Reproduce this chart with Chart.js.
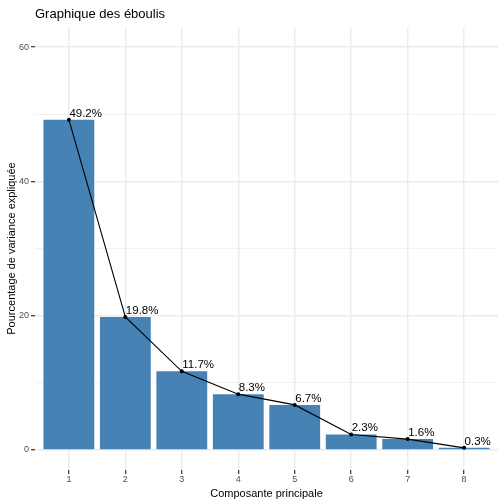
<!DOCTYPE html>
<html>
<head>
<meta charset="utf-8">
<script src="https://cdn.jsdelivr.net/npm/chart.js@4.4.1/dist/chart.umd.min.js"></script>
<style>
  html, body { margin: 0; padding: 0; background: #fff; }
  #wrap { width: 504px; height: 504px; position: relative; }
</style>
</head>
<body>
<div id="wrap"><canvas id="chart"></canvas></div>
<script>
// Data
const components = ["1", "2", "3", "4", "5", "6", "7", "8"];
const variancePct = [49.2, 19.8, 11.7, 8.3, 6.7, 2.3, 1.6, 0.3];
const yTicks = [0, 20, 40, 60];

const chartTitle = "Graphique des éboulis";
const xTitle = "Composante principale";
const yTitle = "Pourcentage de variance expliquée";

const fontFamily = "'Liberation Sans', Arial, sans-serif";

// points on a numeric x axis so the panel can get ggplot's 0.6 padding
const points = components.map((c, i) => ({ x: i + 1, y: variancePct[i] }));

// Title drawn at panel left, like ggplot
const titlePlugin = {
  id: "panelTitle",
  afterDraw(chart) {
    const ctx = chart.ctx;
    ctx.save();
    ctx.font = "13px " + fontFamily;
    ctx.fillStyle = "#000";
    ctx.textAlign = "left";
    ctx.textBaseline = "alphabetic";
    ctx.fillText(chartTitle, chart.chartArea.left, 18);
    ctx.restore();
  }
};

// Percent labels above the points
const labelPlugin = {
  id: "pctLabels",
  afterDatasetsDraw(chart) {
    const meta = chart.getDatasetMeta(1);
    const ctx = chart.ctx;
    ctx.save();
    ctx.font = "11.5px " + fontFamily;
    ctx.fillStyle = "#000";
    ctx.textAlign = "left";
    ctx.textBaseline = "alphabetic";
    meta.data.forEach((pt, i) => {
      ctx.fillText(variancePct[i] + "%", pt.x + 0.5, pt.y - 3);
    });
    ctx.restore();
  }
};

const isMajor = v => yTicks.includes(v);

new Chart(document.getElementById("chart"), {
  data: {
    datasets: [
      {
        type: "bar",
        data: points,
        backgroundColor: "#4682B4",
        barPercentage: 0.9,
        categoryPercentage: 1,
        order: 2
      },
      {
        type: "line",
        data: points,
        borderColor: "#000",
        borderWidth: 1.1,
        pointRadius: 2,
        pointBackgroundColor: "#000",
        pointBorderWidth: 0,
        tension: 0,
        order: 1
      }
    ]
  },
  options: {
    responsive: true,
    maintainAspectRatio: false,
    animation: false,
    layout: { padding: { top: 27, right: 6, bottom: 0, left: 0 } },
    plugins: {
      legend: { display: false },
      tooltip: { enabled: false }
    },
    scales: {
      x: {
        type: "linear",
        min: 0.4,
        max: components.length + 0.6,
        offset: false,
        afterBuildTicks(scale) {
          scale.ticks = components.map((c, i) => ({ value: i + 1 }));
        },
        grid: {
          offset: false,
          color: "#EBEBEB",
          lineWidth: 1.4,
          drawTicks: true,
          tickLength: 4,
          tickColor: "#333",
          tickWidth: 1.2
        },
        border: { display: false },
        ticks: {
          color: "#4D4D4D",
          font: { size: 9, family: fontFamily },
          padding: 0,
          callback: v => components[v - 1] ?? ""
        },
        title: { display: true, text: xTitle, color: "#000", font: { size: 11, family: fontFamily }, padding: { top: 2, bottom: 3 } },
        afterFit(scale) { scale.height = 34; }
      },
      y: {
        min: -3,
        max: 63,
        afterBuildTicks(scale) {
          scale.ticks = [0, 10, 20, 30, 40, 50, 60].map(v => ({ value: v }));
        },
        grid: {
          color: "#EBEBEB",
          lineWidth: ctx => isMajor(ctx.tick.value) ? 1.4 : 0.7,
          drawTicks: true,
          tickLength: 4,
          tickColor: ctx => isMajor(ctx.tick.value) ? "#333" : "rgba(0,0,0,0)",
          tickWidth: 1.2
        },
        border: { display: false },
        ticks: {
          color: "#4D4D4D",
          font: { size: 9, family: fontFamily },
          padding: 2,
          callback: v => isMajor(v) ? String(v) : ""
        },
        title: { display: true, text: yTitle, color: "#000", font: { size: 11, family: fontFamily }, padding: { top: 5, bottom: 2 } },
        afterFit(scale) { scale.width = 35; }
      }
    }
  },
  plugins: [titlePlugin, labelPlugin]
});
</script>
</body>
</html>
